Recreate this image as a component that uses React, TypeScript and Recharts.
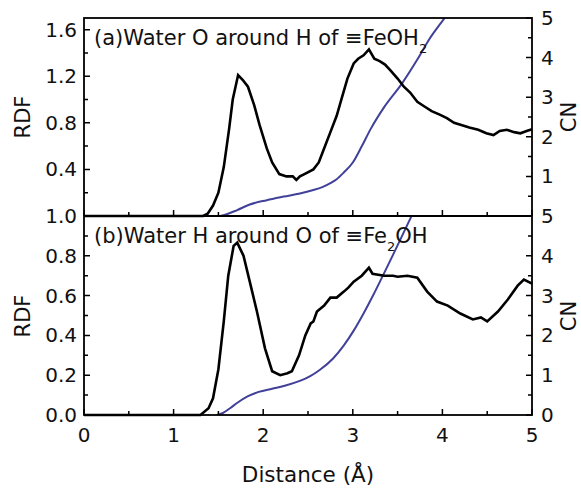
import React from 'react';
import { LineChart, Line, XAxis, YAxis } from 'recharts';

const FONT = 'DejaVu Sans';

// Panel (a): Water O around H of ≡FeOH2
const topRdfX = [0, 1.33, 1.38, 1.44, 1.50, 1.56, 1.62, 1.66, 1.72, 1.77, 1.83, 1.90, 1.96, 2.04, 2.10, 2.18, 2.26, 2.33, 2.37, 2.41, 2.46, 2.56, 2.62, 2.67, 2.75, 2.82, 2.88, 2.94, 3.01, 3.06, 3.12, 3.18, 3.24, 3.30, 3.36, 3.42, 3.50, 3.57, 3.64, 3.72, 3.80, 3.88, 3.97, 4.05, 4.13, 4.22, 4.30, 4.40, 4.49, 4.57, 4.64, 4.72, 4.80, 4.87, 4.94, 5.0];
const topRdfY = [0, 0, 0.02, 0.09, 0.2, 0.42, 0.75, 1.0, 1.21, 1.17, 1.11, 0.95, 0.78, 0.58, 0.46, 0.36, 0.34, 0.34, 0.31, 0.34, 0.36, 0.40, 0.46, 0.56, 0.72, 0.86, 1.02, 1.18, 1.31, 1.35, 1.38, 1.43, 1.35, 1.33, 1.30, 1.25, 1.18, 1.11, 1.06, 0.98, 0.94, 0.90, 0.87, 0.84, 0.80, 0.78, 0.76, 0.74, 0.71, 0.695, 0.73, 0.74, 0.72, 0.71, 0.73, 0.745];
const topCnX = [1.52, 1.60, 1.71, 1.85, 2.04, 2.23, 2.41, 2.55, 2.66, 2.75, 2.82, 2.90, 3.00, 3.10, 3.20, 3.35, 3.55, 3.72, 3.85, 4.04, 4.10];
const topCnY = [0, 0.05, 0.15, 0.29, 0.40, 0.49, 0.57, 0.65, 0.73, 0.83, 0.93, 1.10, 1.35, 1.76, 2.2, 2.75, 3.35, 3.95, 4.45, 5.05, 5.25];

// Panel (b): Water H around O of ≡Fe2OH
const botRdfX = [0, 1.30, 1.39, 1.44, 1.50, 1.56, 1.61, 1.67, 1.71, 1.78, 1.85, 1.93, 2.02, 2.10, 2.19, 2.27, 2.32, 2.40, 2.47, 2.53, 2.56, 2.60, 2.68, 2.75, 2.82, 2.90, 2.95, 3.01, 3.10, 3.18, 3.22, 3.35, 3.45, 3.50, 3.61, 3.72, 3.83, 3.94, 4.06, 4.20, 4.34, 4.43, 4.50, 4.62, 4.73, 4.84, 4.91, 5.0];
const botRdfY = [0, 0, 0.034, 0.084, 0.23, 0.47, 0.70, 0.85, 0.866, 0.80, 0.67, 0.52, 0.335, 0.22, 0.20, 0.21, 0.22, 0.30, 0.40, 0.46, 0.47, 0.52, 0.55, 0.59, 0.59, 0.62, 0.64, 0.67, 0.70, 0.74, 0.71, 0.70, 0.70, 0.695, 0.70, 0.69, 0.62, 0.57, 0.55, 0.51, 0.48, 0.49, 0.47, 0.52, 0.58, 0.65, 0.68, 0.66];
const botCnX = [1.48, 1.55, 1.63, 1.72, 1.82, 1.95, 2.10, 2.25, 2.40, 2.52, 2.63, 2.78, 2.90, 3.01, 3.12, 3.23, 3.34, 3.45, 3.55, 3.66, 3.72];
const botCnY = [0, 0.05, 0.17, 0.32, 0.46, 0.58, 0.66, 0.74, 0.85, 0.97, 1.13, 1.42, 1.75, 2.12, 2.55, 3.02, 3.52, 4.03, 4.5, 5.02, 5.3];

// Ticks
const xTicks = [0, 0.5, 1, 1.5, 2, 2.5, 3, 3.5, 4, 4.5, 5];
const topRdfTicks = [0, 0.2, 0.4, 0.6, 0.8, 1.0, 1.2, 1.4, 1.6];
const botRdfTicks = [0, 0.1, 0.2, 0.3, 0.4, 0.5, 0.6, 0.7, 0.8, 0.9, 1.0];
const cnTicks = [0, 0.5, 1, 1.5, 2, 2.5, 3, 3.5, 4, 4.5, 5];

// Domains
const X_MAX = 5;
const TOP_RDF_MAX = 1.7;
const BOT_RDF_MAX = 1.0;
const CN_MAX = 5;

const zip = (xs: number[], ys: number[]) => xs.map((x, i) => ({ x, y: ys[i] }));
const topRdf = zip(topRdfX, topRdfY);
const topCn = zip(topCnX, topCnY);
const botRdf = zip(botRdfX, botRdfY);
const botCn = zip(botCnX, botCnY);

const near = (a: number, b: number) => Math.abs(a - b) < 1e-6;
const isMul = (v: number, step: number) => near(v / step, Math.round(v / step));

// plot geometry (matches chart margins/axis sizes below)
const PL = 84;
const PR = 532;
const TOP_T = 18;
const MID = 216;
const BOT_B = 415;

function labelTick(
  side: 'left' | 'right' | 'bottom',
  majorStep: number,
  label: (v: number) => string | null
) {
  return (p: any) => {
    const v = Number(p.payload.value);
    const txt = isMul(v, majorStep) ? label(v) : null;
    if (txt == null) return <g />;
    const x = Number(p.x);
    const y = Number(p.y);
    if (side === 'left') return <text x={x - 7} y={y + 7} textAnchor="end" fontFamily={FONT} fontSize={20} fill="#111">{txt}</text>;
    if (side === 'right') return <text x={x + 9} y={y + 7} textAnchor="start" fontFamily={FONT} fontSize={20} fill="#111">{txt}</text>;
    return <text x={x} y={y + 27} textAnchor="middle" fontFamily={FONT} fontSize={20} fill="#111">{txt}</text>;
  };
}

const tickTopX = labelTick('bottom', 1, () => null);
const tickBotX = labelTick('bottom', 1, (v) => String(v));
const tickTopL = labelTick('left', 0.4, (v) => (near(v, 0) ? null : v.toFixed(1)));
const tickTopR = labelTick('right', 1, (v) => (near(v, 0) ? null : String(v)));
const tickBotL = labelTick('left', 0.2, (v) => v.toFixed(1));
const tickBotR = labelTick('right', 1, (v) => String(v));

const BLUE = '#41419a';

// tick marks (inward) for the frame, placed with the same linear scales as the axes
function tickMarks() {
  const sx = (v: number) => PL + (v / X_MAX) * (PR - PL);
  const out: string[] = [];
  const hy = (v: number, max: number, top: number, bottom: number) => bottom - (v / max) * (bottom - top);
  topRdfTicks.forEach((v) => {
    const y = hy(v, TOP_RDF_MAX, TOP_T, MID);
    out.push(`M${PL},${y}h${isMul(v, 0.4) ? 6 : 4}`);
  });
  botRdfTicks.forEach((v) => {
    const y = hy(v, BOT_RDF_MAX, MID, BOT_B);
    out.push(`M${PL},${y}h${isMul(v, 0.2) ? 6 : 4}`);
  });
  cnTicks.forEach((v) => {
    const l = isMul(v, 1) ? 6 : 4;
    out.push(`M${PR},${hy(v, CN_MAX, TOP_T, MID)}h${-l}`);
    out.push(`M${PR},${hy(v, CN_MAX, MID, BOT_B)}h${-l}`);
  });
  xTicks.forEach((v) => {
    const l = isMul(v, 1) ? 6 : 4;
    out.push(`M${sx(v)},${MID}v${-l}`);
    out.push(`M${sx(v)},${BOT_B}v${-l}`);
  });
  return out.join('');
}

export default function App() {
  return (
    <div style={{ position: 'absolute', left: 0, top: 0, width: 581, height: 490, background: '#fff' }}>
      <div style={{ position: 'absolute', left: 0, top: 0 }}>
        <LineChart width={581} height={236} margin={{ top: 0, right: 0, bottom: 0, left: 0 }}>
          <XAxis xAxisId="top" orientation="top" dataKey="x" type="number" domain={[0, X_MAX]} height={TOP_T} tick={false} tickLine={false} axisLine={false} />
          <XAxis
            dataKey="x" type="number" domain={[0, X_MAX]} ticks={xTicks} interval={0} height={20}
            tickSize={0} tickMargin={0} tickLine={false} axisLine={false} tick={tickTopX}
          />
          <YAxis
            yAxisId="l" type="number" domain={[0, TOP_RDF_MAX]} ticks={topRdfTicks} interval={0} width={PL}
            tickSize={0} tickMargin={0} tickLine={false} axisLine={false} tick={tickTopL}
          />
          <YAxis
            yAxisId="r" orientation="right" type="number" domain={[0, CN_MAX]} allowDataOverflow ticks={cnTicks} interval={0} width={581 - PR}
            tickSize={0} tickMargin={0} tickLine={false} axisLine={false} tick={tickTopR}
          />
          <Line data={topCn} dataKey="y" yAxisId="r" type="monotone" stroke={BLUE} strokeWidth={2} dot={false} isAnimationActive={false} />
          <Line data={topRdf} dataKey="y" yAxisId="l" type="linear" stroke="#000" strokeWidth={2.6} dot={false} isAnimationActive={false} />
        </LineChart>
      </div>
      <div style={{ position: 'absolute', left: 0, top: 200 }}>
        <LineChart width={581} height={290} margin={{ top: 16, right: 0, bottom: 0, left: 0 }}>
          <XAxis
            dataKey="x" type="number" domain={[0, X_MAX]} ticks={xTicks} interval={0} height={75}
            tickSize={0} tickMargin={0} tickLine={false} axisLine={false} tick={tickBotX}
          />
          <YAxis
            yAxisId="l" type="number" domain={[0, BOT_RDF_MAX]} ticks={botRdfTicks} interval={0} width={PL}
            tickSize={0} tickMargin={0} tickLine={false} axisLine={false} tick={tickBotL}
          />
          <YAxis
            yAxisId="r" orientation="right" type="number" domain={[0, CN_MAX]} allowDataOverflow ticks={cnTicks} interval={0} width={581 - PR}
            tickSize={0} tickMargin={0} tickLine={false} axisLine={false} tick={tickBotR}
          />
          <Line data={botCn} dataKey="y" yAxisId="r" type="monotone" stroke={BLUE} strokeWidth={2} dot={false} isAnimationActive={false} />
          <Line data={botRdf} dataKey="y" yAxisId="l" type="linear" stroke="#000" strokeWidth={2.6} dot={false} isAnimationActive={false} />
        </LineChart>
      </div>
      <svg width={581} height={490} style={{ position: 'absolute', left: 0, top: 0, pointerEvents: 'none' }}>
        <rect x={PL} y={TOP_T} width={PR - PL} height={BOT_B - TOP_T} fill="none" stroke="#000" strokeWidth={1.8} />
        <path d={`M${PL},${MID}H${PR}`} stroke="#000" strokeWidth={1.8} fill="none" />
        <path d={tickMarks()} stroke="#000" strokeWidth={1.5} fill="none" />
        <g fontFamily={FONT} fill="#111">
          <text x={94} y={45} fontSize={21}>
            (a)Water O around H of ≡FeOH
            <tspan fontSize={13} dy={8}>2</tspan>
          </text>
          <text x={94} y={243} fontSize={21}>
            (b)Water H around O of ≡Fe
            <tspan fontSize={13} dy={8}>2</tspan>
            <tspan dy={-8}>OH</tspan>
          </text>
          <text transform="translate(22,117) rotate(-90)" textAnchor="middle" dy="0.36em" fontSize={21}>RDF</text>
          <text transform="translate(22,316) rotate(-90)" textAnchor="middle" dy="0.36em" fontSize={21}>RDF</text>
          <text transform="translate(568,117) rotate(-90)" textAnchor="middle" dy="0.36em" fontSize={21}>CN</text>
          <text transform="translate(568,316) rotate(-90)" textAnchor="middle" dy="0.36em" fontSize={21}>CN</text>
          <text x={308} y={482} textAnchor="middle" fontSize={21.5}>Distance (Å)</text>
        </g>
      </svg>
    </div>
  );
}
